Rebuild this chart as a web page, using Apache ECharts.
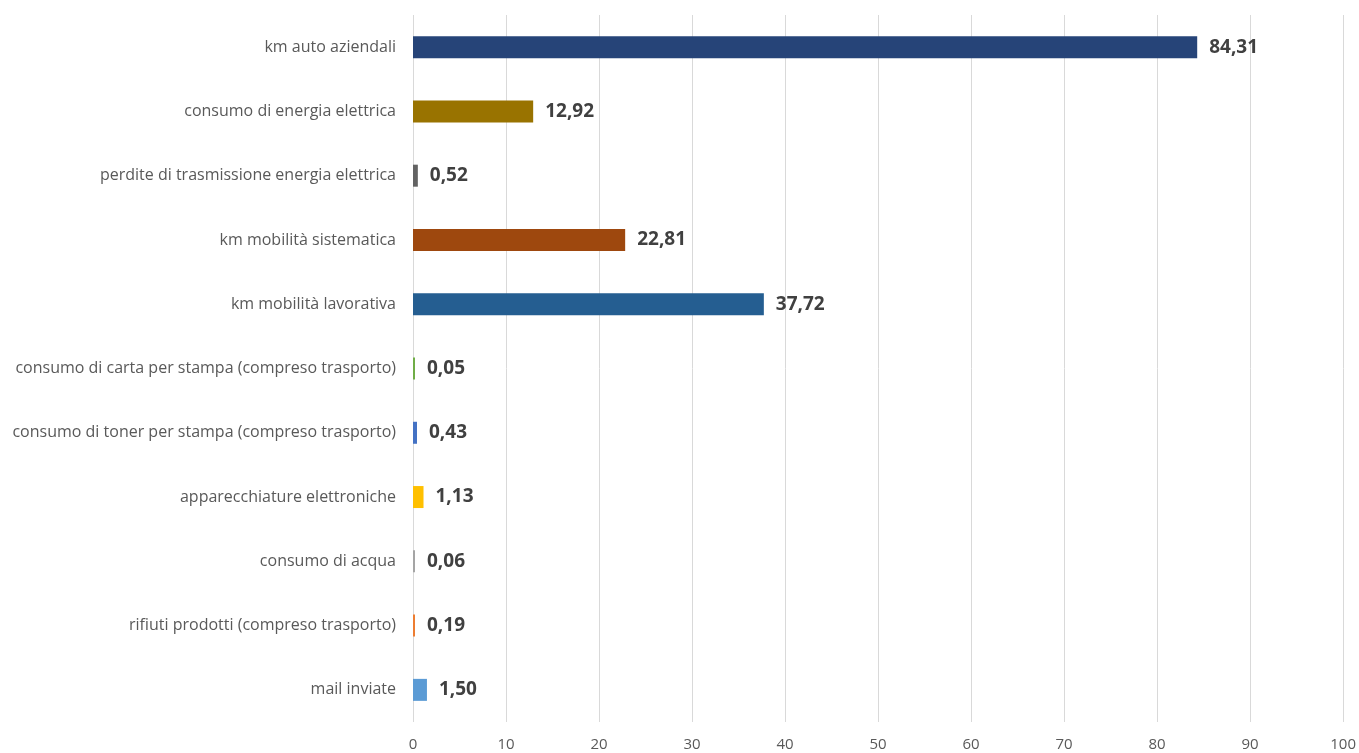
<!DOCTYPE html>
<html>
<head>
<meta charset="utf-8">
<script src="https://cdn.jsdelivr.net/npm/echarts@6/dist/echarts.min.js"></script>
<style>
  html, body { margin: 0; padding: 0; background: #fff; }
  #chart { width: 1359px; height: 753px; }
</style>
</head>
<body>
<div id="chart"></div>
<script>
// categories top to bottom
var categories = [
    'km auto aziendali',
    'consumo di energia elettrica',
    'perdite di trasmissione energia elettrica',
    'km mobilità sistematica',
    'km mobilità lavorativa',
    'consumo di carta per stampa (compreso trasporto)',
    'consumo di toner per stampa (compreso trasporto)',
    'apparecchiature elettroniche',
    'consumo di acqua',
    'rifiuti prodotti (compreso trasporto)',
    'mail inviate'
];
var values = [84.31, 12.92, 0.52, 22.81, 37.72, 0.05, 0.43, 1.13, 0.06, 0.19, 1.50];
var barColors = ['#264478', '#997300', '#636363', '#9E480E', '#255E91', '#70AD47',
                 '#4472C4', '#FFC000', '#A5A5A5', '#ED7D31', '#5B9BD5'];
var xTicks = [0, 10, 20, 30, 40, 50, 60, 70, 80, 90, 100];

var chart = echarts.init(document.getElementById('chart'));

chart.setOption({
    animation: false,
    grid: { left: 413, right: 15, top: 15, bottom: 31 },
    xAxis: {
        type: 'value',
        min: xTicks[0],
        max: xTicks[xTicks.length - 1],
        interval: 10,
        axisLine: { show: false },
        axisTick: { show: false },
        axisLabel: { color: '#595959', fontSize: 15, fontFamily: 'Open Sans', margin: 15 },
        splitLine: { show: true, lineStyle: { color: '#D9D9D9', width: 1 } }
    },
    yAxis: {
        type: 'category',
        data: categories,
        inverse: true,
        axisLine: { show: false },
        axisTick: { show: false },
        axisLabel: { color: '#595959', fontSize: 16, fontFamily: 'Open Sans', margin: 17 }
    },
    series: [{
        type: 'bar',
        barWidth: 22,
        barMinHeight: 2,
        data: values.map(function(v, i) {
            return { value: v, itemStyle: { color: barColors[i] } };
        }),
        label: {
            show: true,
            position: 'right',
            distance: 12,
            color: '#404040',
            fontSize: 19,
            fontWeight: 'bold',
            fontFamily: 'Open Sans',
            formatter: function(p) { return p.value.toFixed(2).replace('.', ','); }
        }
    }]
});
</script>
</body>
</html>
